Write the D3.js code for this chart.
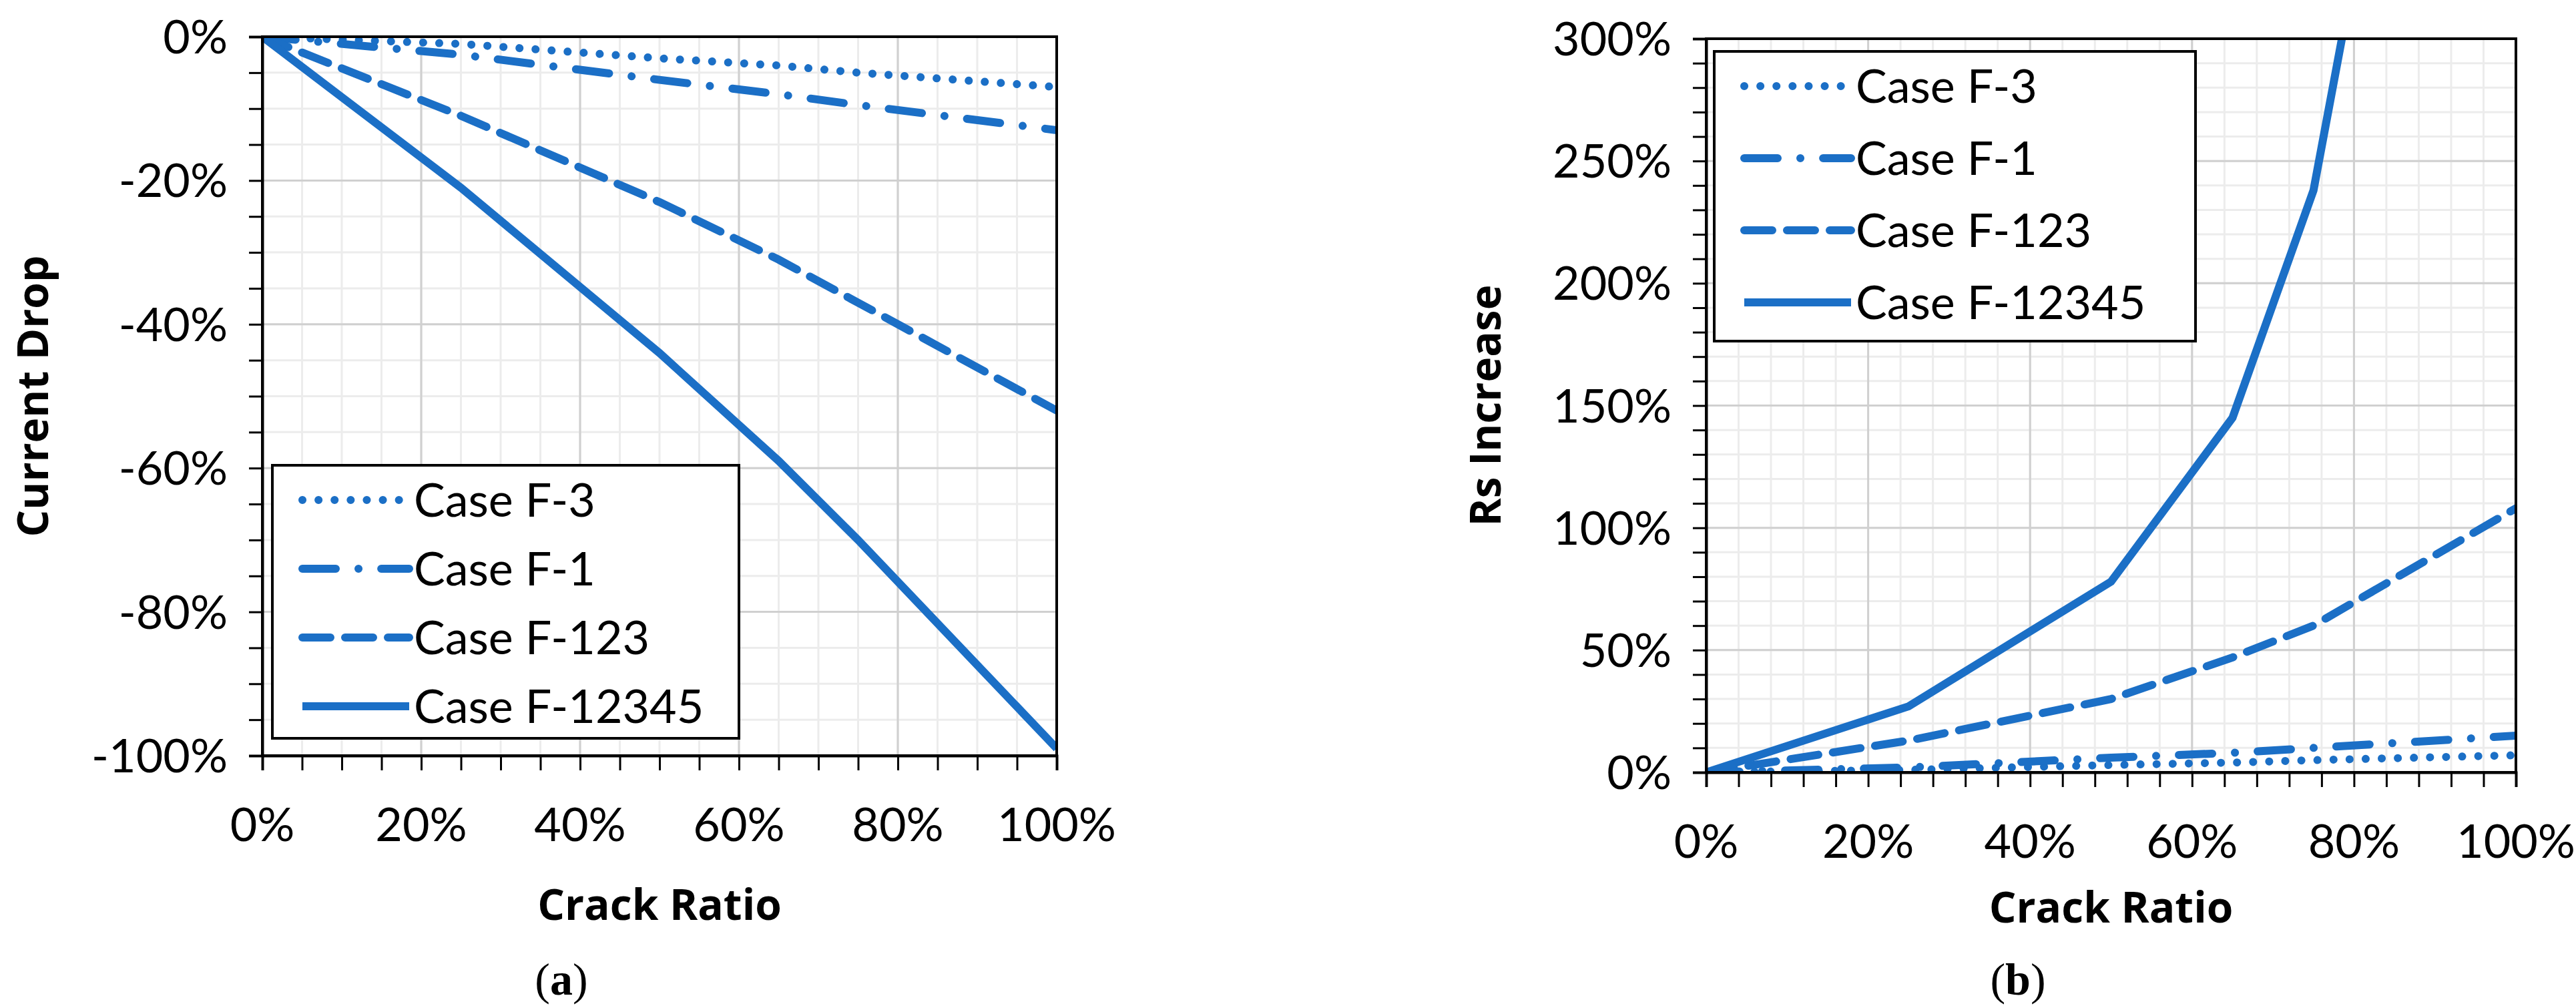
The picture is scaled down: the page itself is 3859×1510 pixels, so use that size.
<!DOCTYPE html>
<html><head><meta charset="utf-8">
<script src="https://cdn.jsdelivr.net/npm/d3@7"></script>
<style>body{margin:0;background:#fff}</style>
</head><body>
<svg id="chart" width="3859" height="1510"></svg>
<script>
// Crack ratio (fraction) shared by all series
const crack = [0, 0.25, 0.5, 0.65, 0.75, 1.0];

// (a) current drop, %
const dropF3 = [0, -1, -3, -4, -5, -7];
const dropF1 = [0, -2.5, -6, -8, -9.5, -13];
const dropF123 = [0, -11, -23, -31, -37, -52];
const dropF12345 = [0, -21, -44, -59, -70, -99];

// (b) Rs increase, %
const rsF3 = [0, 1, 3, 4, 5, 7];
const rsF1 = [0, 2, 6, 8, 10, 15];
const rsF123 = [0, 13, 30, 47, 60, 108];
const rsF12345 = [0, 27, 78, 145, 238, 680];

const caseNames = ["Case F-3", "Case F-1", "Case F-123", "Case F-12345"];
const dashes = ["0.1 24", "50 34 0.1 34", "42 22", null];

const blue = "#1b6fc6";
const svg = d3.select("#chart");

function panel(o) {
  const g = svg.append("g");
  const x = d3.scaleLinear().domain([0, 1]).range([o.x0, o.x1]);
  const y = d3.scaleLinear().domain(o.ydom).range([o.y1, o.y0]);

  // minor grid
  g.append("g").selectAll("line").data(d3.range(0, 1.0001, o.xminor))
    .join("line").attr("x1", d => x(d)).attr("x2", d => x(d))
    .attr("y1", o.y0).attr("y2", o.y1).attr("stroke", "#ececec").attr("stroke-width", 3);
  g.append("g").selectAll("line").data(d3.range(o.ydom[0], o.ydom[1] + 0.001, o.yminor))
    .join("line").attr("y1", d => y(d)).attr("y2", d => y(d))
    .attr("x1", o.x0).attr("x2", o.x1).attr("stroke", "#ececec").attr("stroke-width", 3);
  // major grid
  g.append("g").selectAll("line").data(d3.range(0, 1.0001, 0.2))
    .join("line").attr("x1", d => x(d)).attr("x2", d => x(d))
    .attr("y1", o.y0).attr("y2", o.y1).attr("stroke", "#d0d0d0").attr("stroke-width", 3);
  g.append("g").selectAll("line").data(d3.range(o.ydom[0], o.ydom[1] + 0.001, o.ymajor))
    .join("line").attr("y1", d => y(d)).attr("y2", d => y(d))
    .attr("x1", o.x0).attr("x2", o.x1).attr("stroke", "#d0d0d0").attr("stroke-width", 3);

  // clip for lines
  const cid = "clip" + o.id;
  svg.append("clipPath").attr("id", cid).append("rect")
    .attr("x", o.x0).attr("y", o.y0).attr("width", o.x1 - o.x0).attr("height", o.y1 - o.y0);

  const line = d3.line().x((d, i) => x(crack[i])).y(d => y(d));
  const lg = g.append("g").attr("clip-path", `url(#${cid})`);
  o.series.forEach((s, i) => {
    lg.append("path").attr("d", line(s)).attr("fill", "none")
      .attr("stroke", blue).attr("stroke-width", 12)
      .attr("stroke-linecap", dashes[i] ? "round" : "butt")
      .attr("stroke-dasharray", dashes[i]);
  });

  // frame
  g.append("rect").attr("x", o.x0).attr("y", o.y0).attr("width", o.x1 - o.x0)
    .attr("height", o.y1 - o.y0).attr("fill", "none").attr("stroke", "#000").attr("stroke-width", 4);

  // axes
  const xa = g.append("g").attr("transform", `translate(0,${o.y1})`)
    .call(d3.axisBottom(x).tickValues(d3.range(0, 1.0001, o.xminor)).tickSize(22).tickFormat(""));
  xa.selectAll("line").attr("stroke-width", 3);
  xa.select(".domain").attr("stroke-width", 4);
  const ya = g.append("g").attr("transform", `translate(${o.x0},0)`)
    .call(d3.axisLeft(y).tickValues(d3.range(o.ydom[0], o.ydom[1] + 0.001, o.yminor)).tickSize(20).tickFormat(""));
  ya.selectAll("line").attr("stroke-width", 3);
  ya.select(".domain").attr("stroke-width", 4);

  const font = "Lato, 'Open Sans', sans-serif";
  g.append("g").selectAll("text").data(d3.range(0, 1.0001, 0.2)).join("text")
    .attr("x", d => x(d)).attr("y", o.y1 + 128).attr("text-anchor", "middle")
    .attr("font-family", font).attr("font-size", 70).text(d => d3.format(".0%")(d));
  g.append("g").selectAll("text").data(d3.range(o.ydom[0], o.ydom[1] + 0.001, o.ymajor)).join("text")
    .attr("x", o.x0 - 52).attr("y", d => y(d) + 25).attr("text-anchor", "end")
    .attr("font-family", font).attr("font-size", 70).text(d => Math.round(d) + "%");

  g.append("text").attr("x", (o.x0 + o.x1) / 2).attr("y", o.xtitleY).attr("text-anchor", "middle")
    .attr("font-family", "'Open Sans', sans-serif").attr("font-weight", "bold").attr("font-size", 64)
    .text("Crack Ratio");
  g.append("text").attr("transform", `translate(${o.ytitleX},${(o.y0 + o.y1) / 2}) rotate(-90)`)
    .attr("text-anchor", "middle").attr("font-family", "'Open Sans', sans-serif")
    .attr("font-weight", "bold").attr("font-size", 64).text(o.ytitle);
  g.append("text").attr("x", o.capX).attr("y", 1490).attr("text-anchor", "middle")
    .attr("font-family", "'Liberation Serif', serif").attr("font-size", 68)
    .html(`(<tspan font-weight="bold">${o.cap}</tspan>)`);

  // legend
  const L = o.legend;
  g.append("rect").attr("x", L.x).attr("y", L.y).attr("width", L.w).attr("height", L.h)
    .attr("fill", "#fff").attr("stroke", "#000").attr("stroke-width", 4);
  caseNames.forEach((n, i) => {
    const cy = L.y + 52 + i * L.step;
    g.append("line").attr("x1", L.x + 45).attr("x2", L.x + 205).attr("y1", cy).attr("y2", cy)
      .attr("stroke", blue).attr("stroke-width", 12)
      .attr("stroke-linecap", dashes[i] ? "round" : "butt").attr("stroke-dasharray", dashes[i]);
    g.append("text").attr("x", L.x + 212).attr("y", cy + 25).attr("font-family", font)
      .attr("font-size", 70).text(n);
  });
}

panel({
  id: "a", x0: 393, x1: 1583, y0: 55, y1: 1132, ydom: [-100, 0],
  xminor: 0.05, yminor: 5, ymajor: 20,
  series: [dropF3, dropF1, dropF123, dropF12345],
  ytitle: "Current Drop", ytitleX: 72, xtitleY: 1378, capX: 841, cap: "a",
  legend: { x: 408, y: 697, w: 699, h: 409, step: 103 }
});
panel({
  id: "b", x0: 2556, x1: 3769, y0: 58, y1: 1157, ydom: [0, 300],
  xminor: 0.04, yminor: 10, ymajor: 50,
  series: [rsF3, rsF1, rsF123, rsF12345],
  ytitle: "Rs Increase", ytitleX: 2248, xtitleY: 1382, capX: 3023, cap: "b",
  legend: { x: 2568, y: 77, w: 721, h: 434, step: 108 }
});
</script>
</body></html>
